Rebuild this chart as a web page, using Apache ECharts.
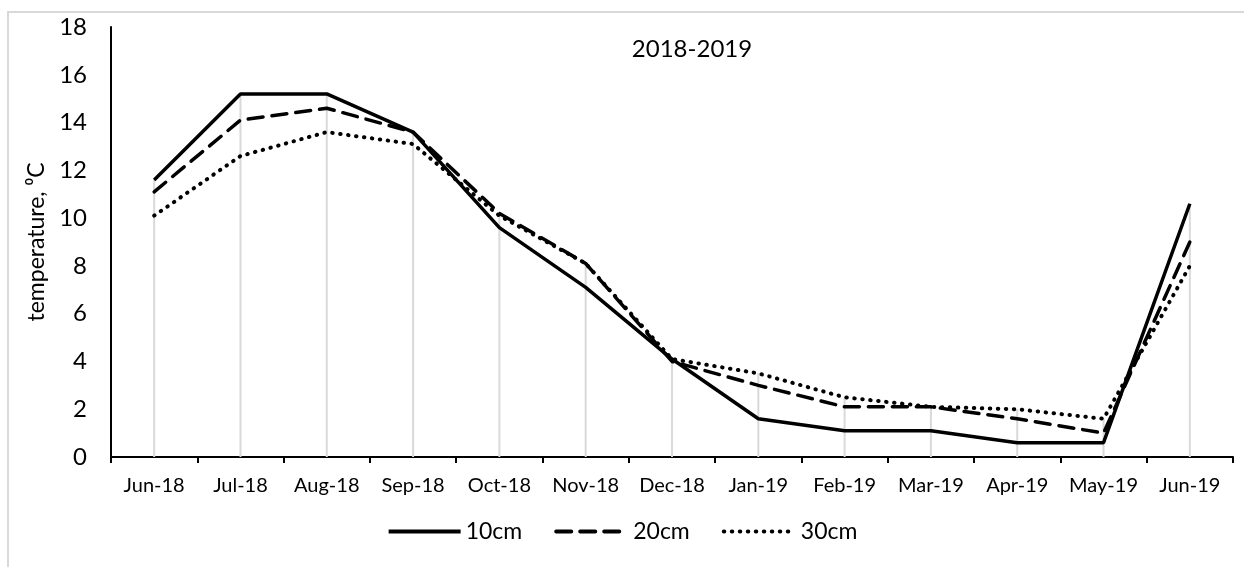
<!DOCTYPE html>
<html>
<head>
<meta charset="utf-8">
<title>Soil temperature 2018-2019</title>
<script src="https://cdn.jsdelivr.net/npm/echarts@6/dist/echarts.min.js"></script>
<style>
  html, body { margin: 0; padding: 0; background: #fff; }
  #chart { width: 1244px; height: 567px; }
</style>
</head>
<body>
<div id="chart"></div>
<script>
// Monthly mean soil temperature at three depths
const months = ['Jun-18', 'Jul-18', 'Aug-18', 'Sep-18', 'Oct-18', 'Nov-18', 'Dec-18',
                'Jan-19', 'Feb-19', 'Mar-19', 'Apr-19', 'May-19', 'Jun-19'];
const depth10 = [11.6, 15.2, 15.2, 13.6, 9.6, 7.1, 4.1, 1.6, 1.1, 1.1, 0.6, 0.6, 10.6];
const depth20 = [11.1, 14.1, 14.6, 13.6, 10.2, 8.1, 4.0, 3.0, 2.1, 2.1, 1.6, 1.0, 9.0];
const depth30 = [10.1, 12.6, 13.6, 13.1, 10.1, 8.1, 4.1, 3.5, 2.5, 2.1, 2.0, 1.6, 8.0];
const yTicks = { min: 0, max: 18, step: 2 };

// Drop lines run from the highest reading of each month down to the axis
const dropTops = months.map((_, i) => Math.max(depth10[i], depth20[i], depth30[i]));

const FONT = 'Lato, "Open Sans", sans-serif';
const chart = echarts.init(document.getElementById('chart'), null, { renderer: 'canvas' });

chart.setOption({
  backgroundColor: '#ffffff',
  animation: false,
  textStyle: { fontFamily: FONT, color: '#000' },
  graphic: [{
    type: 'rect',
    shape: { x: 8, y: 12, width: 1300, height: 700 },
    style: { fill: 'none', stroke: '#d9d9d9', lineWidth: 2 },
    silent: true, z: -10
  }],
  title: {
    text: '2018-2019',
    left: 687, top: 32,
    textAlign: 'center',
    textStyle: { fontFamily: FONT, fontSize: 24, fontWeight: 'normal', color: '#000' }
  },
  grid: { left: 111, right: 11, top: 27, bottom: 110 },
  legend: {
    data: ['10cm', '20cm', '30cm'],
    bottom: 19, left: 'center',
    itemWidth: 72, itemHeight: 14, itemGap: 32,
    itemStyle: { opacity: 0 },
    lineStyle: { width: 4 },
    textStyle: { fontFamily: FONT, fontSize: 23, color: '#000' }
  },
  xAxis: {
    type: 'category',
    data: months,
    boundaryGap: true,
    axisLine: { lineStyle: { color: '#000', width: 2 } },
    axisTick: { show: true, length: 6, lineStyle: { color: '#000', width: 2 } },
    axisLabel: { interval: 0, fontFamily: FONT, fontSize: 20, color: '#000', margin: 19 },
    splitLine: { show: false }
  },
  yAxis: {
    type: 'value',
    min: yTicks.min, max: yTicks.max, interval: yTicks.step,
    name: 'temperature, \u2070C',
    nameLocation: 'middle',
    nameGap: 60,
    nameTextStyle: { fontFamily: FONT, fontSize: 23, color: '#000' },
    axisLine: { show: true, lineStyle: { color: '#000', width: 2 } },
    axisTick: { show: false },
    axisLabel: { fontFamily: FONT, fontSize: 24, color: '#000', margin: 24 },
    splitLine: { show: false }
  },
  series: [
    {
      name: 'drop',
      type: 'bar',
      data: dropTops,
      barWidth: 2,
      itemStyle: { color: '#d9d9d9' },
      silent: true,
      z: 1
    },
    {
      name: '30cm', type: 'line', data: depth30, symbol: 'none',
      lineStyle: { color: '#000', width: 4, type: [0.5, 7.5], cap: 'round' },
      itemStyle: { color: '#000' }, z: 3
    },
    {
      name: '20cm', type: 'line', data: depth20, symbol: 'none',
      lineStyle: { color: '#000', width: 3.5, type: [15, 9], cap: 'round' },
      itemStyle: { color: '#000' }, z: 4
    },
    {
      name: '10cm', type: 'line', data: depth10, symbol: 'none',
      lineStyle: { color: '#000', width: 3.5, type: 'solid' },
      itemStyle: { color: '#000' }, z: 5
    }
  ]
});
</script>
</body>
</html>
